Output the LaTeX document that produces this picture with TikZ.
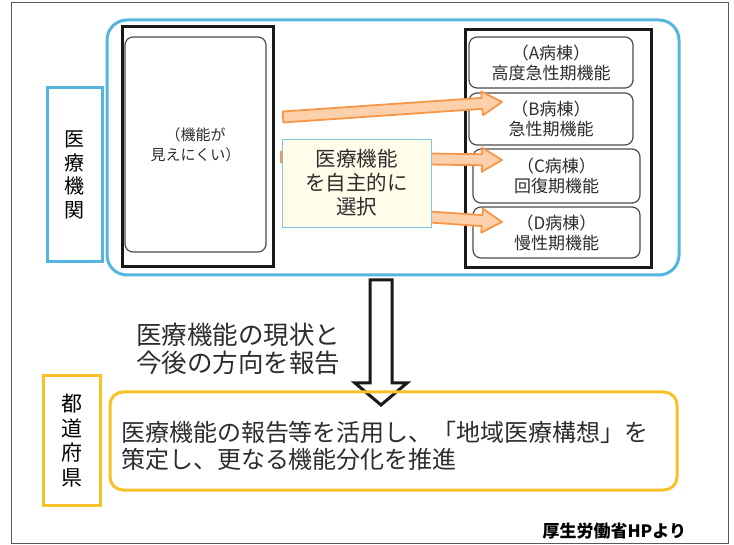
\documentclass[tikz,border=0pt]{standalone}
\usepackage{fontspec}
\setmainfont{Noto Sans CJK JP}
\usetikzlibrary{calc}
\definecolor{bluebd}{RGB}{84,182,222}
\definecolor{yellowbd}{RGB}{250,192,40}
\definecolor{orangebd}{RGB}{246,150,72}
\definecolor{orangefill}{RGB}{252,208,170}
\definecolor{midfill}{RGB}{255,253,234}
\definecolor{midbd}{RGB}{130,195,228}
\definecolor{txt}{RGB}{45,45,45}
\newcommand{\fatarr}[2]{%
  \coordinate (fh) at ($(#2)!20pt!(#1)$);
  \draw[orangearr] ($(#1)!5.5pt!90:(#2)$) -- ($(fh)!5.5pt!90:(#2)$) --
    ($(fh)!12pt!90:(#2)$) -- (#2) -- ($(fh)!12pt!-90:(#2)$) --
    ($(fh)!5.5pt!-90:(#2)$) -- ($(#1)!5.5pt!-90:(#2)$) -- cycle;}
\begin{document}
\begin{tikzpicture}[x=1pt,y=-1pt,
  every node/.style={inner sep=0pt, outer sep=0pt, text=txt},
  frame/.style={draw=black!65, line width=1pt},
  bluebox/.style={draw=bluebd, line width=3pt},
  yellowbox/.style={draw=yellowbd, line width=3pt},
  blackpanel/.style={draw=black!90, line width=3pt, fill=white},
  innerbox/.style={draw=black!70, line width=1.2pt, rounded corners=8pt, fill=white, align=center,
     font=\fontsize{17}{20}\selectfont},
  orangearr/.style={draw=orangebd, line width=1.8pt, fill=orangefill, line join=round},
  midbox/.style={draw=midbd, line width=0.8pt, fill=midfill, align=center,
     font=\fontsize{20.5}{24}\selectfont},
  vlabel/.style={align=center, text=black, font=\fontsize{20}{23.5}\selectfont},
  downarr/.style={draw=black!90, line width=3pt, fill=white, line join=miter}
]
\useasboundingbox (0,0) rectangle (734,545);
% outer frame
\draw[frame] (11,3) rectangle (728,543);

% medical institution area
\node[bluebox, rounded corners=20pt, minimum width=572pt, minimum height=255pt] (inst) at (393,147.5) {};
\node[bluebox, minimum width=55pt, minimum height=174pt, vlabel] (kikan) at (74.5,175) {医\\療\\機\\関};

% left panel
\node[blackpanel, minimum width=151pt, minimum height=240pt] (leftp) at (197.5,147) {};
\node[innerbox, minimum width=141pt, minimum height=215pt, font=\fontsize{15}{20}\selectfont] (leftin) at (195.5,144.5) {（機能が\\見えにくい）};

% right panel
\node[blackpanel, minimum width=186pt, minimum height=238pt] (rightp) at (558,149) {};
\node[innerbox, minimum width=164pt, minimum height=51pt] (wardA) at (551,62.5) {（A病棟）\\高度急性期機能};
\node[innerbox, minimum width=164pt, minimum height=52pt] (wardB) at (551,119) {（B病棟）\\急性期機能};
\node[innerbox, minimum width=167pt, minimum height=54pt] (wardC) at (556.5,176) {（C病棟）\\回復期機能};
\node[innerbox, minimum width=167pt, minimum height=51pt] (wardD) at (556.5,232.5) {（D病棟）\\慢性期機能};

% orange arrows
\coordinate (a1s) at ($(leftp.east)+(10,-30)$);
\coordinate (a1e) at ($(wardB.west)+(33,-17)$);
\coordinate (a2s) at ($(leftp.east)+(8,10)$);
\coordinate (a2e) at ($(wardC.west)+(29,-16)$);
\coordinate (a3s) at ($(leftp.east)+(12,60)$);
\coordinate (a3e) at ($(wardD.west)+(29,-10.5)$);
\fatarr{a1s}{a1e}
\fatarr{a2s}{a2e}
\fatarr{a3s}{a3e}

% middle box
\node[midbox, minimum width=149pt, minimum height=88pt] (choose) at (356.5,183) {医療機能\\を自主的に\\選択};

% down arrow
\coordinate (dtop) at ($(inst.south)+(-12,5)$);
\coordinate (dtip) at ($(dtop)+(0,125)$);
\draw[downarr] ($(dtop)+(-11,0)$) -- ($(dtop)+(11,0)$) -- ($(dtip)+(11,-22)$) -- ($(dtip)+(26,-22)$)
  -- (dtip) -- ($(dtip)+(-26,-22)$) -- ($(dtip)+(-11,-22)$) -- cycle;

\node[anchor=west, align=left, font=\fontsize{25.5}{28}\selectfont] (report) at (136,349) {医療機能の現状と\\今後の方向を報告};

% prefecture area
\node[yellowbox, minimum width=57pt, minimum height=129pt, vlabel, font=\fontsize{21}{24.5}\selectfont] (pref) at (71.5,440.5) {都\\道\\府\\県};
\node[yellowbox, rounded corners=13pt, minimum width=567pt, minimum height=98pt] (plan) at (393.5,441) {};
\node[anchor=west, align=left, font=\fontsize{24}{27}\selectfont] (plantext) at ($(plan.west)+(11,5)$) {医療機能の報告等を活用し、「地域医療構想」を\\策定し、更なる機能分化を推進};

\node[anchor=east, text=black, font=\bfseries\fontsize{17}{19}\selectfont] (credit) at (686,531) {厚生労働省HPより};
\end{tikzpicture}
\end{document}
